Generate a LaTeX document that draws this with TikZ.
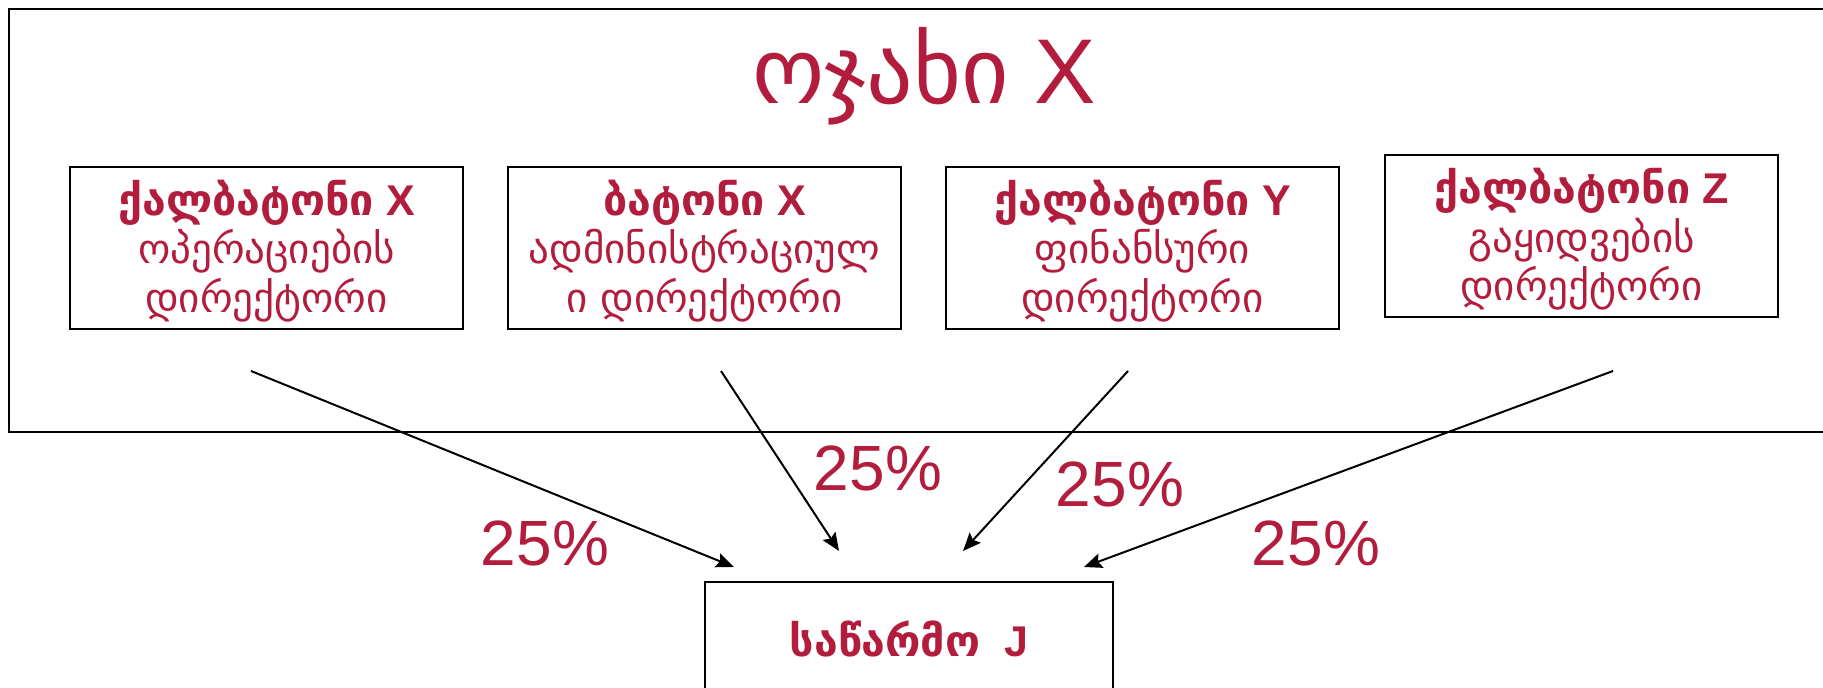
\documentclass[tikz,border=0pt]{standalone}
\usepackage{fontspec}
\setmainfont{Liberation Sans}
\newfontfamily\geo{DejaVu Sans}
\usetikzlibrary{arrows.meta}

\definecolor{firmred}{RGB}{178,29,61}

\tikzset{
  person/.style={draw, line width=1pt, minimum width=196.5pt, minimum height=81pt,
    inner sep=0pt, text=firmred, font=\fontsize{20.5}{24}\selectfont},
  share/.style={text=firmred, font=\fontsize{32}{38}\selectfont},
  owns/.style={-{Stealth[length=9pt,width=7.5pt,inset=1.5pt]}, line width=1pt}
}

\newcommand{\who}[1]{{\fontsize{21.5}{24}\selectfont\bfseries #1}}
\newcommand{\card}[3]{\begin{tabular}{@{}c@{}}\rule{0pt}{23pt}\who{#1}\\ \geo #2\\ \geo #3\end{tabular}}

\begin{document}
\begin{tikzpicture}[x=0.5pt,y=-0.5pt]

  \useasboundingbox (0,0) rectangle (1823,688);

  % family frame
  \draw[line width=1pt] (9,9) rectangle (1840,432);

  \node[text=firmred, font=\fontsize{46}{50}\selectfont] (family) at (924,76) {{\geo ოჯახი} X};

  \node[person] (mrsx) at (266.5,248)  {\card{{\geo ქალბატონი} X}{ოპერაციების}{დირექტორი}};

  \node[person] (mrx)  at (704.5,248)  {\card{{\geo ბატონი} X}{ადმინისტრაციულ}{ი დირექტორი}};

  \node[person] (mrsy) at (1142.5,248) {\card{{\geo ქალბატონი} Y}{ფინანსური}{დირექტორი}};

  \node[person] (mrsz) at (1581.5,236.5) {\card{{\geo ქალბატონი} Z}{გაყიდვების}{დირექტორი}};

  \node[draw, line width=1pt, minimum width=204pt, minimum height=57pt, text=firmred] (firm) at (909,639)
    {\who{{\geo საწარმო} \ J}};

  % arrow ends
  \coordinate (a1) at (251,371);
  \coordinate (a2) at (721,371);
  \coordinate (a3) at (1128,371);
  \coordinate (a4) at (1613,371);

  \coordinate (b1) at (734,567);
  \coordinate (b2) at (839,551);
  \coordinate (b3) at (963,551);
  \coordinate (b4) at (1084,567);

  % Arrows
  \draw[owns] (a1) -- (b1);
  \draw[owns] (a2) -- (b2);
  \draw[owns] (a3) -- (b3);
  \draw[owns] (a4) -- (b4);

  \node[share] (p1) at (545,543)  {25\%};
  \node[share] (p2) at (878,468)  {25\%};
  \node[share] (p3) at (1120,484) {25\%};
  \node[share] (p4) at (1316,543) {25\%};

\end{tikzpicture}
\end{document}
